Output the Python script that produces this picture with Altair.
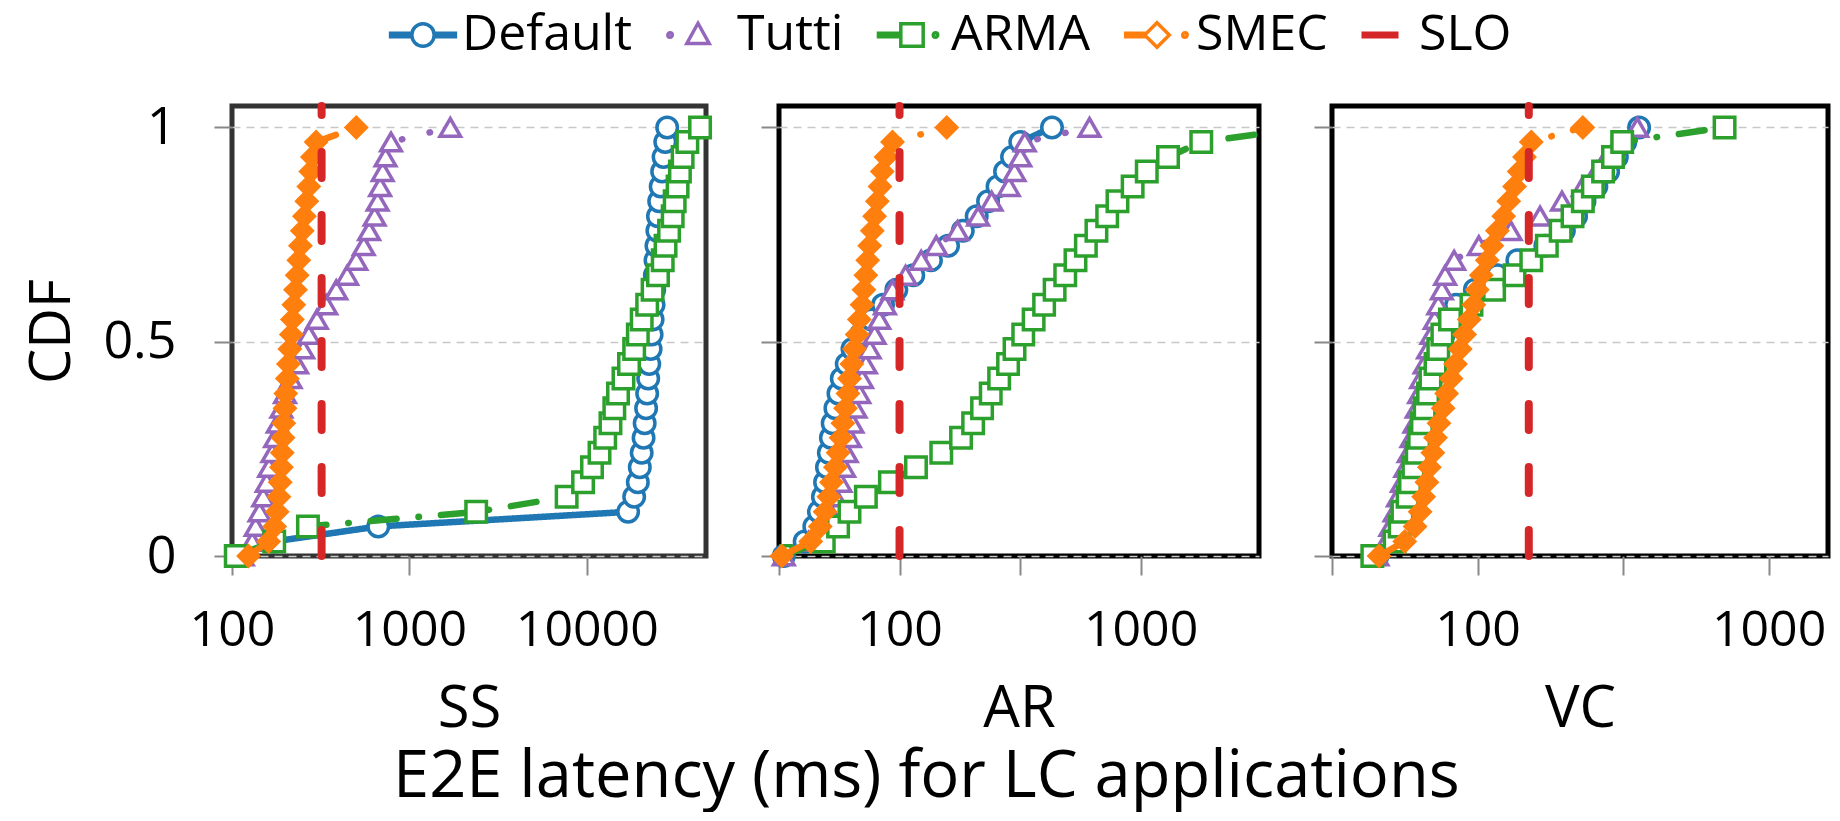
import altair as alt
import pandas as pd

FONT = "Open Sans"

# CDF levels (30 evenly spaced percentiles)
CDF_LEVELS = [0, 0.034, 0.069, 0.103, 0.138, 0.172, 0.207, 0.241, 0.276, 0.31,
              0.345, 0.379, 0.414, 0.448, 0.483, 0.517, 0.552, 0.586, 0.621, 0.655,
              0.69, 0.724, 0.759, 0.793, 0.828, 0.862, 0.897, 0.931, 0.966, 1.0]

# ---- SS panel latencies (ms)
SS_DEFAULT = [110, 173, 668, 17100, 18500, 19400, 19900, 20400, 20900, 21200,
              21600, 21900, 22200, 22500, 22900, 23200, 23500, 23800, 24000, 24200,
              24400, 24700, 25000, 25200, 25600, 26100, 26600, 27100, 27700, 28400]
SS_TUTTI = [115, 130, 136, 143, 150, 157, 162, 169, 175, 181,
            190, 199, 214, 233, 252, 271, 301, 340, 387, 446,
            502, 553, 593, 637, 662, 684, 707, 734, 788, 1700]
SS_ARMA = [105, 173, 268, 2380, 7700, 9530, 10700, 11800, 12700, 13600,
           14300, 15000, 16100, 17300, 18500, 19400, 20400, 21900, 23500, 25200,
           26800, 27800, 29100, 30500, 31300, 32500, 33500, 34700, 36900, 43500]
SS_SMEC = [124, 161, 174, 180, 184, 187, 190, 192, 194, 196,
           199, 201, 205, 208, 212, 216, 219, 223, 228, 233,
           238, 243, 249, 256, 264, 271, 278, 284, 298, 502]

# ---- AR panel latencies (ms)
AR_DEFAULT = [33.1, 40.4, 44.3, 46.3, 48.1, 49.1, 50.0, 50.9, 51.9, 52.8,
              54.2, 55.8, 57.6, 60.4, 63.8, 69.2, 76.6, 85.4, 97.0, 114,
              135, 159, 183, 209, 233, 255, 274, 293, 317, 429]
AR_TUTTI = [33.1, 42.0, 46.9, 51.3, 54.2, 56.9, 58.9, 60.4, 62.2, 63.8,
            65.7, 68.1, 69.9, 72.5, 75.2, 78.8, 82.4, 87.0, 93.5, 106,
            123, 142, 174, 212, 241, 284, 300, 317, 331, 614]
AR_ARMA = [32.2, 48.5, 55.6, 62.0, 72.5, 91.2, 117, 149, 180, 202,
           220, 239, 259, 282, 300, 326, 360, 398, 440, 487,
           537, 593, 656, 727, 802, 927, 1061, 1300, 1786, 5000]
AR_SMEC = [32.5, 42.8, 46.9, 49.1, 50.9, 52.2, 54.2, 55.6, 57.2, 58.2,
           59.7, 61.1, 62.0, 63.4, 65.0, 66.7, 68.1, 69.9, 71.2, 72.5,
           73.8, 75.2, 77.1, 78.8, 80.9, 83.0, 84.8, 87.9, 93.5, 157]

# ---- VC panel latencies (ms)
VC_DEFAULT = [45.3, 52.5, 54.5, 56.0, 57.8, 59.0, 60.5, 62.0, 63.5, 65.0,
              66.5, 68.0, 69.5, 71.5, 73.5, 76.5, 80.0, 84.4, 97.9, 117,
              137, 171, 198, 218, 233, 256, 281, 301, 322, 359]
VC_TUTTI = [45.3, 48.5, 50.2, 51.9, 53.3, 55.0, 56.5, 58.0, 59.3, 60.7,
            61.8, 63.0, 64.0, 65.8, 67.6, 69.5, 71.3, 73.3, 75.4, 77.4,
            83.1, 101, 130, 164, 195, 230, 256, 278, 305, 354]
VC_ARMA = [43.5, 51.9, 54.0, 55.2, 57.5, 58.6, 60.2, 61.8, 63.0, 64.4,
           65.8, 67.6, 68.9, 71.7, 73.3, 75.7, 80.4, 95.3, 114, 134,
           153, 173, 193, 212, 230, 249, 270, 292, 314, 706]
VC_SMEC = [45.9, 56.2, 61.0, 63.5, 65.3, 67.0, 68.3, 70.2, 71.7, 73.7,
           76.2, 78.3, 81.1, 84.0, 87.2, 90.3, 93.6, 97.1, 99.8, 103,
           108, 112, 117, 123, 128, 134, 139, 145, 153, 230]

PANEL_NAMES = ["SS", "AR", "VC"]
SERIES_NAMES = ["Default", "Tutti", "ARMA", "SMEC"]
LEGEND_NAMES = ["Default", "Tutti", "ARMA", "SMEC", "SLO"]
SLO_VALUES = [320, 100, 150]

X_DOMAINS = [[100, 47000], [31.62, 3100], [31.62, 1600]]
X_TICKS = [[100, 1000, 10000], [31.62, 100, 316.2, 1000], [31.62, 100, 316.2, 1000]]
TICK_LABELS = [[100, 1000, 10000], [100, 1000], [100, 1000]]

DATA = {
    "SS": [SS_DEFAULT, SS_TUTTI, SS_ARMA, SS_SMEC],
    "AR": [AR_DEFAULT, AR_TUTTI, AR_ARMA, AR_SMEC],
    "VC": [VC_DEFAULT, VC_TUTTI, VC_ARMA, VC_SMEC],
}

COLORS = ["#1f77b4", "#9467bd", "#2ca02c", "#ff7f0e", "#d62728"]
MARKERS = ["circle", "triangle-up", "square", "diamond"]

# legend symbols: marker with a short piece of its line style (unit box = one marker)
LEGEND_SYMBOLS = [
    "M-2.9,-0.15H-1V0.15H-2.9Z M1,-0.15H2.9V0.15H1Z M-1,0A1,1 0 1,1 1,0A1,1 0 1,1 -1,0Z",
    "M-2.7,0A0.2,0.2 0 1,1 -2.3,0A0.2,0.2 0 1,1 -2.7,0Z M0,-1.05L1,0.75H-1Z",
    "M-3,-0.15H-1.05V0.15H-3Z M-1,-1H1V1H-1Z M1.9,0A0.2,0.2 0 1,1 2.3,0A0.2,0.2 0 1,1 1.9,0Z",
    "M-2.8,-0.15H-1.05V0.15H-2.8Z M0,-1.1L1.1,0L0,1.1L-1.1,0Z M2.3,0A0.2,0.2 0 1,1 2.7,0A0.2,0.2 0 1,1 2.3,0Z",
    "M-1.5,-0.15H1.5V0.15H-1.5Z",
]

# styling (not data)
PANEL_WIDTHS = [474, 480, 496]
PANEL_HEIGHT = 450
FRAME_COLORS = ["#333333", "#000000", "#000000"]
LINE_DASH = {"Default": [1, 0], "Tutti": [0.5, 28], "ARMA": [26, 22, 0.5, 22], "SMEC": [26, 22, 0.5, 22]}

rows = []
for p in PANEL_NAMES:
    for s, xs in zip(SERIES_NAMES, DATA[p]):
        for x, y in zip(xs, CDF_LEVELS):
            rows.append({"panel": p, "series": s, "latency": x, "cdf": y})
df = pd.DataFrame(rows)

slo_df = pd.DataFrame({"panel": PANEL_NAMES, "latency": SLO_VALUES,
                       "y0": [0, 0, 0], "y1": [1.05, 1.05, 1.05]})
legend_df = pd.DataFrame({"series": LEGEND_NAMES})

color_scale = alt.Scale(domain=LEGEND_NAMES, range=COLORS)
shape_scale = alt.Scale(domain=LEGEND_NAMES, range=LEGEND_SYMBOLS)

legend = alt.Legend(
    title=None, orient="none", legendX=166, legendY=-96, direction="horizontal",
    columns=5, labelFontSize=50, labelFont=FONT, labelColor="#000", labelLimit=0,
    symbolSize=500, symbolStrokeWidth=3.5, columnPadding=27, labelOffset=14,
    symbolFillColor="white", symbolOpacity=1, padding=0,
)


def make_panel(i, name):
    xs = alt.Scale(type="log", domain=X_DOMAINS[i], nice=False)
    ys = alt.Scale(domain=[0, 1.05], nice=False)
    shown = TICK_LABELS[i]
    expr = " || ".join(f"datum.value == {v}" for v in shown)
    xaxis = alt.Axis(
        values=X_TICKS[i], labelExpr=f"({expr}) ? format(datum.value, 'd') : ''",
        title=name, grid=False, domain=False, tickColor="#888", tickWidth=2,
        tickSize=19, labelFontSize=50, labelPadding=30, labelFlush=False,
        labelOverlap=False, titleFontSize=58, titleFontWeight="normal",
        titlePadding=25, labelColor="#000", titleColor="#000",
    )
    if i == 0:
        yaxis = alt.Axis(values=[0, 0.5, 1], format="~g", title="CDF", grid=True,
                         gridDash=[8, 6], gridColor="#c8c8c8", gridWidth=1.5,
                         domain=False, tickColor="#888", tickWidth=2, tickSize=18,
                         labelFontSize=52, labelPadding=38, titleFontSize=56,
                         titleFontWeight="normal", titlePadding=21,
                         labelColor="#000", titleColor="#000")
    else:
        yaxis = alt.Axis(values=[0, 0.5, 1], labels=False, title=None, grid=True,
                         gridDash=[8, 6], gridColor="#c8c8c8", gridWidth=1.5,
                         domain=False, tickColor="#888", tickWidth=2, tickSize=18)
    layers = []
    for k, s in enumerate(SERIES_NAMES):
        d = df[(df.panel == name) & (df.series == s)]
        clip = (name == "AR" and s == "ARMA")
        base = alt.Chart(d)
        line = base.mark_line(color=COLORS[k], strokeWidth=6.5, strokeDash=LINE_DASH[s],
                              strokeCap="round", clip=clip).encode(
            x=alt.X("latency:Q", scale=xs, axis=xaxis),
            y=alt.Y("cdf:Q", scale=ys, axis=yaxis),
            order="cdf:Q",
        )
        solid = (s == "SMEC")
        pts = base.mark_point(filled=False, shape=MARKERS[k], color=COLORS[k],
                              fill=COLORS[k] if solid else "white",
                              strokeWidth=3.5, size=420 if not solid else 400,
                              opacity=1, clip=clip).encode(
            x=alt.X("latency:Q", scale=xs, axis=xaxis),
            y=alt.Y("cdf:Q", scale=ys, axis=yaxis),
        )
        layers += [line, pts]
    slo = alt.Chart(slo_df[slo_df.panel == name]).mark_rule(
        color=COLORS[4], strokeWidth=8, strokeDash=[26, 37], strokeCap="round").encode(
        x=alt.X("latency:Q", scale=xs, axis=xaxis),
        y=alt.Y("y0:Q", scale=ys, axis=yaxis),
        y2="y1:Q",
    )
    layers.append(slo)
    if i == 0:
        key = alt.Chart(legend_df).mark_point(filled=False, opacity=0).encode(
            color=alt.Color("series:N", scale=color_scale, legend=legend),
            shape=alt.Shape("series:N", scale=shape_scale, legend=legend),
        )
        layers.append(key)
    return alt.layer(*layers).properties(
        width=PANEL_WIDTHS[i], height=PANEL_HEIGHT,
        view=alt.ViewBackground(stroke=FRAME_COLORS[i], strokeWidth=5, fill="white"),
    )


panels = [make_panel(i, n) for i, n in enumerate(PANEL_NAMES)]

chart = alt.hconcat(*panels, spacing=73, bounds="flush").resolve_scale(
    x="independent", y="shared", color="shared", shape="shared"
).properties(
    title=alt.TitleParams("E2E latency (ms) for LC applications", orient="bottom",
                          anchor="middle", fontSize=65, font=FONT,
                          fontWeight="normal", color="#000", offset=5),
    padding={"left": 14, "right": 0, "top": 2, "bottom": 2},
).configure(font=FONT).configure_axis(labelFont=FONT, titleFont=FONT)

chart.save("out.html", embed_options={"renderer": "svg", "actions": False})
